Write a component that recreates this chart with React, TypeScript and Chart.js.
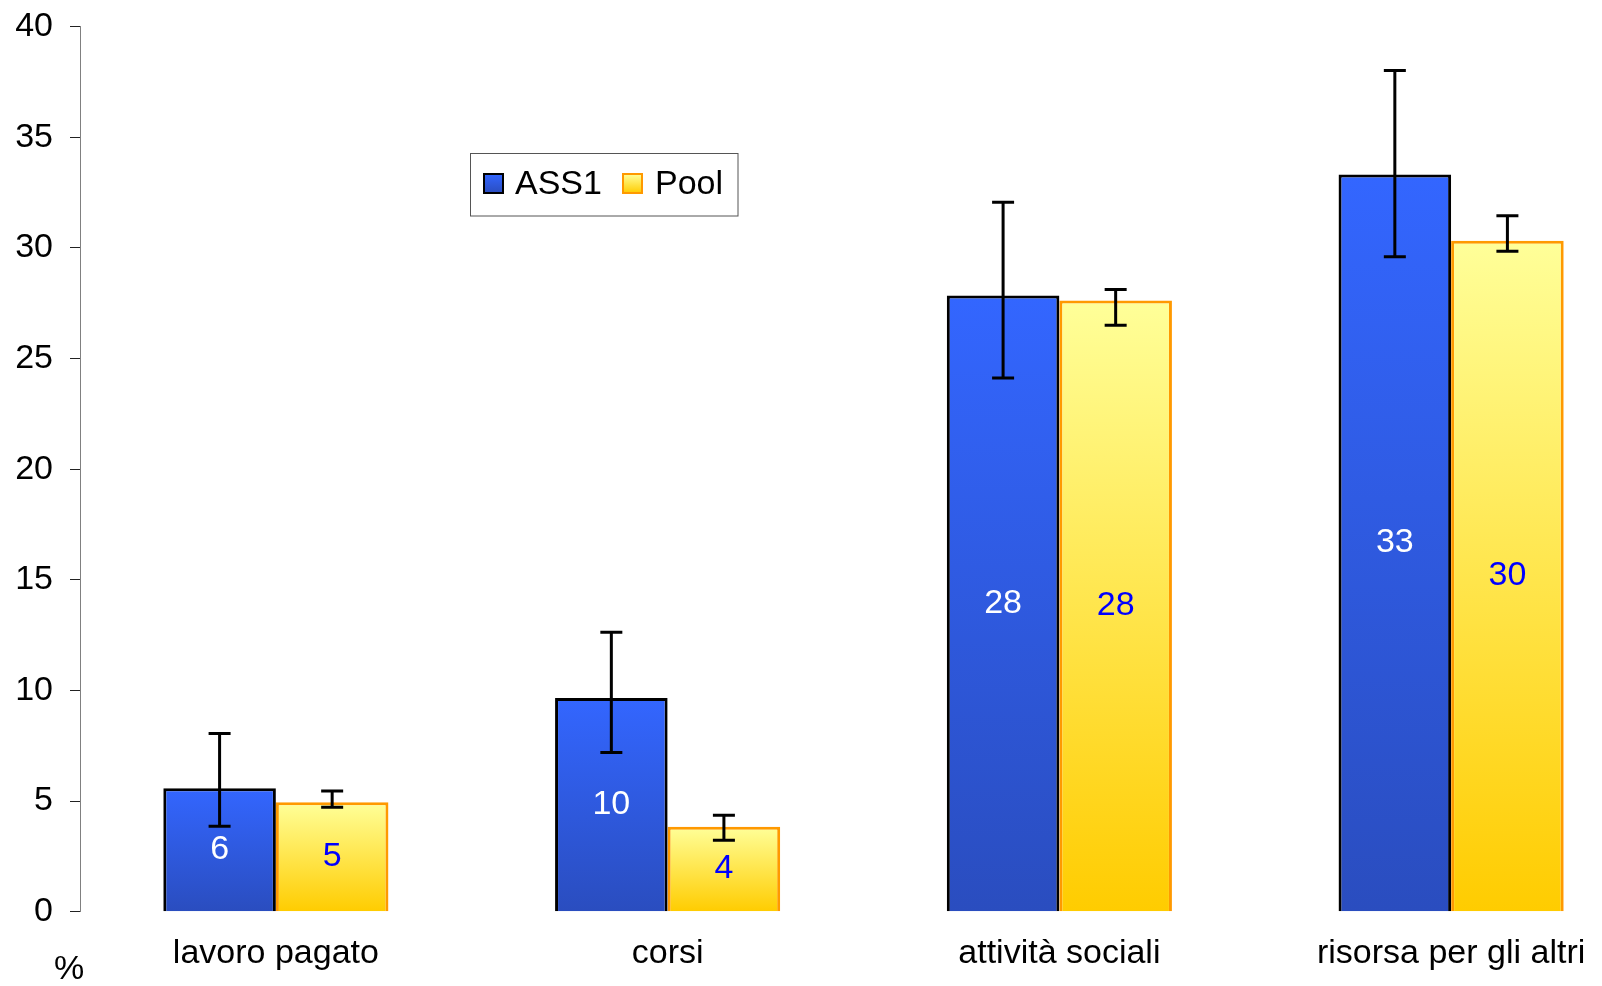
import React, { useEffect, useRef } from "react";
import { Chart, registerables } from "chart.js";
Chart.register(...registerables);

const categories = ["lavoro pagato", "corsi", "attività sociali", "risorsa per gli altri"];
const seriesNames = ["ASS1", "Pool"];
const ass1Values = [5.58, 9.66, 27.85, 33.32];
const ass1Low = [3.86, 7.19, 24.12, 29.6];
const ass1High = [8.05, 12.63, 32.07, 38.02];
const poolValues = [4.95, 3.84, 27.62, 30.33];
const poolLow = [4.72, 3.23, 26.51, 29.85];
const poolHigh = [5.46, 4.36, 28.12, 31.46];
const yMin = 0;
const yMax = 40;
const yStep = 5;
const unitLabel = "%";

const FONT = "'Liberation Sans', Arial, sans-serif";
const errLows = [ass1Low, poolLow];
const errHighs = [ass1High, poolHigh];
const gradColors = [
  ["#3366ff", "#2a4dbf"],
  ["#ffff99", "#ffcc00"],
];
const borderColors = ["#000000", "#ff9900"];
const labelColors = ["#ffffff", "#0000ff"];

function barGradient(di: number) {
  return (c: any) => {
    const chart = c.chart;
    const [top, bottom] = gradColors[di];
    if (!chart.chartArea || c.type !== "data") return top;
    const y = chart.scales.y;
    const yTop = y.getPixelForValue(c.raw as number);
    const yBot = y.getPixelForValue(0);
    const g = chart.ctx.createLinearGradient(0, yTop, 0, yBot);
    g.addColorStop(0, top);
    g.addColorStop(1, bottom);
    return g;
  };
}

const overlayPlugin = {
  id: "overlay",
  afterDatasetsDraw(chart: any) {
    const ctx = chart.ctx;
    const y = chart.scales.y;
    chart.data.datasets.forEach((ds: any, di: number) => {
      const meta = chart.getDatasetMeta(di);
      meta.data.forEach((el: any, i: number) => {
        const x = el.x;
        ctx.save();
        ctx.font = `34px ${FONT}`;
        ctx.fillStyle = labelColors[di];
        ctx.textAlign = "center";
        ctx.textBaseline = "middle";
        ctx.fillText(String(Math.round(ds.data[i])), x, (el.y + el.base) / 2);
        ctx.restore();
        const yl = y.getPixelForValue(errLows[di][i]);
        const yh = y.getPixelForValue(errHighs[di][i]);
        ctx.save();
        ctx.strokeStyle = "#000";
        ctx.lineWidth = 3;
        ctx.beginPath();
        ctx.moveTo(x, yh);
        ctx.lineTo(x, yl);
        ctx.moveTo(x - 11, yh);
        ctx.lineTo(x + 11, yh);
        ctx.moveTo(x - 11, yl);
        ctx.lineTo(x + 11, yl);
        ctx.stroke();
        ctx.restore();
      });
    });
  },
  afterDraw(chart: any) {
    const ctx = chart.ctx;
    ctx.save();
    ctx.font = `34px ${FONT}`;
    ctx.fillStyle = "#000";
    ctx.textAlign = "center";
    ctx.textBaseline = "middle";
    ctx.fillText(unitLabel, 69, 970);
    const bx = 470.5, by = 153.5, bw = 267.5, bh = 62.5;
    ctx.fillStyle = "#fff";
    ctx.fillRect(bx, by, bw, bh);
    ctx.strokeStyle = "#555";
    ctx.lineWidth = 1;
    ctx.strokeRect(bx, by, bw, bh);
    const items = [
      { sx: 484, tx: 515 },
      { sx: 623, tx: 655 },
    ];
    items.forEach((it, di) => {
      const sy = 174, s = 19;
      const g = ctx.createLinearGradient(0, sy, 0, sy + s);
      g.addColorStop(0, gradColors[di][0]);
      g.addColorStop(1, gradColors[di][1]);
      ctx.fillStyle = g;
      ctx.fillRect(it.sx, sy, s, s);
      ctx.strokeStyle = borderColors[di];
      ctx.lineWidth = 2;
      ctx.strokeRect(it.sx, sy, s, s);
      ctx.fillStyle = "#000";
      ctx.textAlign = "left";
      ctx.textBaseline = "middle";
      ctx.font = `34px ${FONT}`;
      ctx.fillText(chart.data.datasets[di].label, it.tx, sy + s / 2 + 1);
    });
    ctx.restore();
  },
};

export default function App() {
  const ref = useRef<HTMLCanvasElement>(null);
  useEffect(() => {
    if (!ref.current) return;
    const values = [ass1Values, poolValues];
    const chart = new Chart(ref.current, {
      type: "bar",
      data: {
        labels: categories,
        datasets: seriesNames.map((name, di) => ({
          label: name,
          data: values[di],
          backgroundColor: barGradient(di),
          borderColor: borderColors[di],
          borderWidth: 3,
          categoryPercentage: 0.5747,
          barPercentage: 1,
        })),
      },
      options: {
        responsive: false,
        animation: false,
        devicePixelRatio: 1,
        layout: { padding: { top: 26.7, right: 13, left: 0, bottom: 0 } },
        plugins: {
          legend: { display: false },
          tooltip: { enabled: false },
        },
        scales: {
          x: {
            grid: { display: false },
            border: { display: false },
            ticks: {
              color: "#000",
              font: { family: FONT, size: 34 },
              padding: 14,
              maxRotation: 0,
              autoSkip: false,
            },
            afterFit: (s: any) => {
              s.height = 74.3;
            },
          },
          y: {
            min: yMin,
            max: yMax,
            ticks: {
              stepSize: yStep,
              color: "#000",
              font: { family: FONT, size: 34, lineHeight: 0.5 },
              padding: 17,
            },
            grid: {
              drawOnChartArea: false,
              tickLength: 10,
              color: "#222",
              lineWidth: 1,
            },
            border: { color: "#808080", width: 1 },
            afterFit: (s: any) => {
              s.width = 80;
            },
          },
        },
      },
      plugins: [overlayPlugin],
    });
    return () => chart.destroy();
  }, []);
  return (
    <div style={{ position: "fixed", left: 0, top: 0, width: 1660, height: 986, background: "#fff" }}>
      <canvas ref={ref} width={1660} height={986} />
    </div>
  );
}
